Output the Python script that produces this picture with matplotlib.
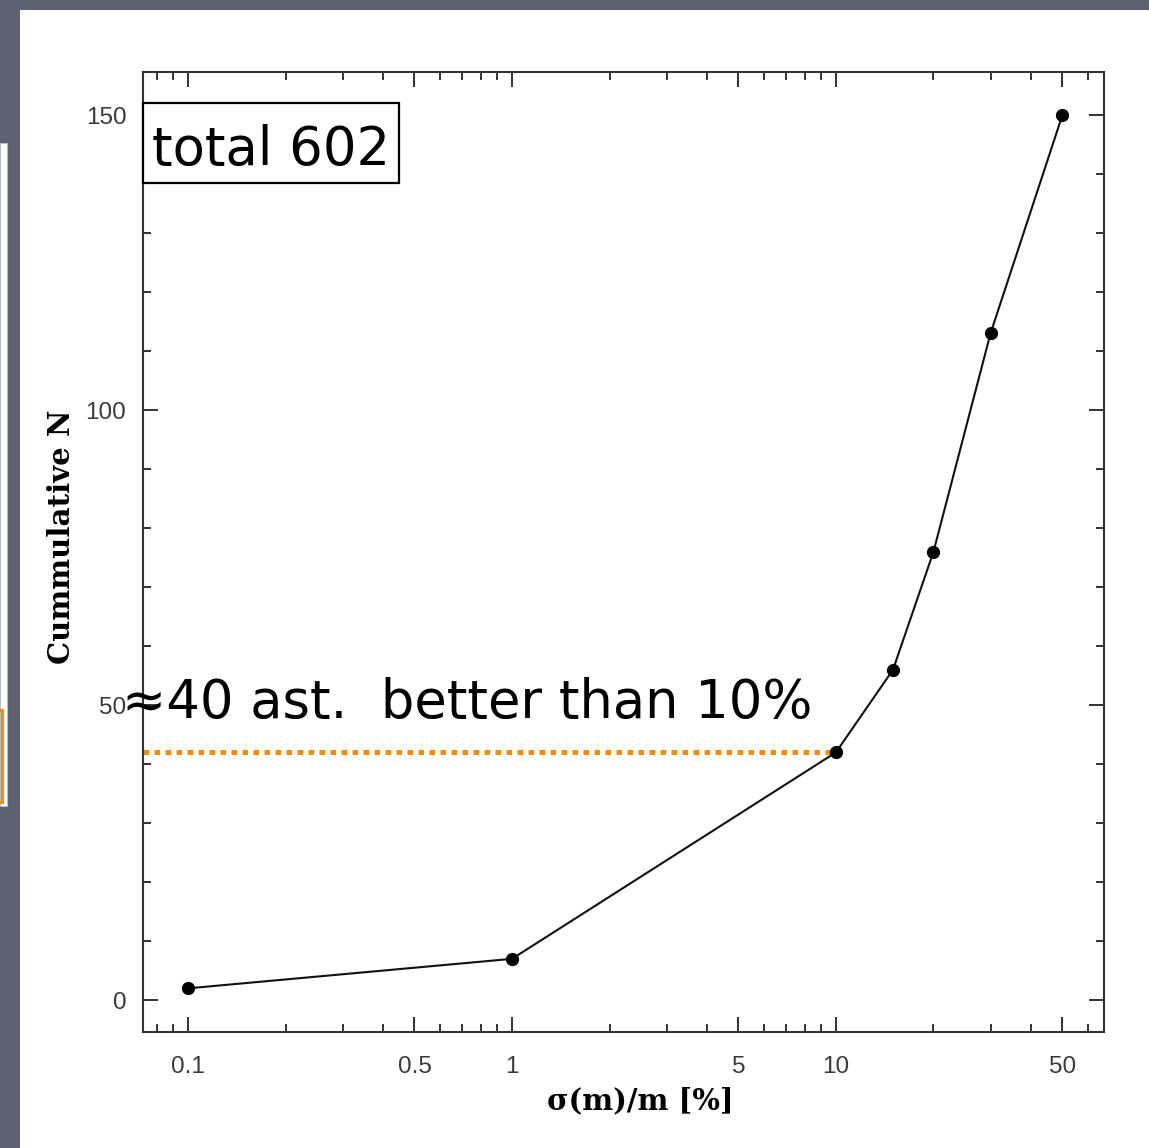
import numpy as np
import matplotlib.pyplot as plt
from matplotlib.patches import Rectangle
from matplotlib.ticker import FixedLocator, FixedFormatter, NullFormatter

# cumulative number of asteroids vs. relative mass uncertainty
sigma_pct = [0.1, 1, 10, 15, 20, 30, 50]
cum_n = [2, 7, 42, 56, 76, 113, 150]

cut_pct = 10
cut_n = 42

x_major = [0.1, 0.5, 1, 5, 10, 50]
x_major_labels = ['0.1', '0.5', '1', '5', '10', '50']
x_minor = [0.08, 0.09, 0.2, 0.3, 0.4, 0.6, 0.7, 0.8, 0.9,
           2, 3, 4, 6, 7, 8, 9, 20, 30, 40, 60]
y_major = [0, 50, 100, 150]

W, H = 1149, 1148
fig = plt.figure(figsize=(W / 100, H / 100), dpi=100)
fig.patch.set_facecolor('white')

def fr(x0, y0, w, h):
    # pixel box (from top-left) -> figure fraction
    return (x0 / W, 1 - (y0 + h) / H), w / W, h / H

dark = '#5d6270'
for box in [(0, 0, W, 10), (0, 0, 20, H)]:
    xy, w, h = fr(*box)
    fig.patches.append(Rectangle(xy, w, h, transform=fig.transFigure,
                                 facecolor=dark, edgecolor='none', zorder=0))
# bit of the neighbouring slide panel on the left edge
xy, w, h = fr(0, 143, 7, 663)
fig.patches.append(Rectangle(xy, w, h, transform=fig.transFigure,
                             facecolor='white', edgecolor='#b8bcc4', lw=0.8, zorder=1))
xy, w, h = fr(-20, 710, 22, 92)
fig.patches.append(Rectangle(xy, w, h, transform=fig.transFigure,
                             facecolor='none', edgecolor='#ff8a00', lw=2.2, zorder=2))

ax = fig.add_axes([143 / W, 1 - 1032 / H, 961 / W, 960 / H])
ax.set_xscale('log')
ax.set_xlim(0.0726, 67.2)
ax.set_ylim(-5.4, 157.3)

ax.plot(sigma_pct, cum_n, color='#111111', lw=1.5, marker='o', ms=8.5,
        mfc='black', mec='black', zorder=3)
ax.plot([ax.get_xlim()[0], cut_pct], [cut_n, cut_n], color='#ff8a00', lw=3.6,
        dashes=(1.1, 1.1), solid_capstyle='butt', dash_capstyle='butt', zorder=2)

ax.xaxis.set_major_locator(FixedLocator(x_major))
ax.xaxis.set_major_formatter(FixedFormatter(x_major_labels))
ax.xaxis.set_minor_locator(FixedLocator(x_minor))
ax.xaxis.set_minor_formatter(NullFormatter())
ax.yaxis.set_major_locator(FixedLocator(y_major))
ax.yaxis.set_minor_locator(FixedLocator(np.arange(0, 160, 10)))

for s in ax.spines.values():
    s.set_color('#333333')
    s.set_linewidth(1.5)
ax.tick_params(which='both', direction='in', top=True, right=True,
               color='#333333', width=1.4)
ax.tick_params(which='major', length=11)
ax.tick_params(which='minor', length=6)
ax.tick_params(axis='x', which='major', pad=17, labelsize=17.5, labelcolor='#3a3a3a')
ax.tick_params(axis='y', which='major', pad=12, labelsize=17.5, labelcolor='#3a3a3a')
for lab in ax.get_xticklabels() + ax.get_yticklabels():
    lab.set_family('Liberation Sans')

ax.set_xlabel('σ(m)/m [%]', family='DejaVu Serif', fontweight='bold', fontsize=21)
ax.xaxis.set_label_coords(0.517, -0.057)
ax.set_ylabel('Cummulative N', family='DejaVu Serif', fontweight='bold', fontsize=21)
ax.yaxis.set_label_coords(-0.070, 0.516)

# framed "total" label
ax.add_patch(Rectangle((0, 0.8844), 0.2664, 0.0833, transform=ax.transAxes,
                       facecolor='white', edgecolor='black', lw=1.6,
                       clip_on=False, zorder=4))
ax.text(0.0094, 0.9031, 'total 602', transform=ax.transAxes, ha='left',
        va='baseline', fontsize=38, family='DejaVu Sans', zorder=5)

fig.text(122 / W, 1 - 718 / H, '≈40 ast.  better than 10%', ha='left',
         va='baseline', fontsize=38, family='DejaVu Sans', zorder=5)

fig.savefig('out.png', dpi=100)
